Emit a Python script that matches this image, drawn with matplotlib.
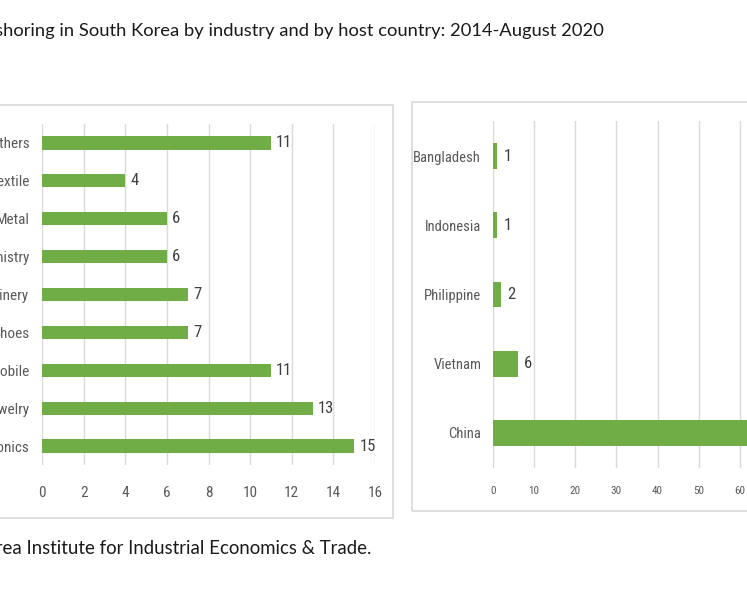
import matplotlib.pyplot as plt
from matplotlib.patches import Rectangle
from matplotlib import font_manager

# Data
industries = ['Electronics', 'Jewelry', 'Automobile', 'Shoes', 'Machinery',
              'Chemistry', 'Metal', 'Textile', 'Others']
industry_counts = [15, 13, 11, 7, 7, 6, 6, 4, 11]
industry_ticks = [0, 2, 4, 6, 8, 10, 12, 14, 16]

countries = ['China', 'Vietnam', 'Philippine', 'Indonesia', 'Bangladesh']
country_counts = [70, 6, 2, 1, 1]
country_ticks = [0, 10, 20, 30, 40, 50, 60, 70, 80]

title = 'Reshoring in South Korea by industry and by host country: 2014-August 2020'
source = 'Source: Korea Institute for Industrial Economics & Trade.'

GREEN = '#70AD47'
GRID = '#D9D9D9'
TXT = '#595959'

# look for a narrow face for the chart labels (Calibri-like, condensed)
fonts = font_manager.fontManager.ttflist
names = {f.name for f in fonts}
narrow = dict(family='DejaVu Sans')
scale = 0.85
if 'Liberation Sans Narrow' in names:
    narrow = dict(family='Liberation Sans Narrow')
    scale = 1.0
elif 'Roboto Condensed' in names:
    narrow = dict(family='Roboto Condensed')
    scale = 1.0
elif any(f.name == 'DejaVu Sans' and 'condensed' in str(f.stretch) for f in fonts):
    narrow = dict(family='DejaVu Sans', stretch='condensed')
    scale = 0.95

W, H = 747, 598
fig = plt.figure(figsize=(W / 100, H / 100), dpi=100)

def fx(px):
    return px / W

def fy(py):
    return 1 - py / H

# chart boxes
fig.patches.append(Rectangle((fx(-20), fy(518)), fx(413), (518 - 105) / H,
                             transform=fig.transFigure, fill=False,
                             edgecolor=GRID, linewidth=1.2))
fig.patches.append(Rectangle((fx(412), fy(511)), fx(400), (511 - 102) / H,
                             transform=fig.transFigure, fill=False,
                             edgecolor=GRID, linewidth=1.2))

fig.text(fx(604), fy(31), title, ha='right', va='center', fontsize=13.25,
         family='Lato', color='#1a1a1a')
fig.text(fx(371), fy(548), source, ha='right', va='center', fontsize=13.4,
         family='Lato', color='#1a1a1a')

# left panel: by industry
ax1 = fig.add_axes([fx(42), fy(465), fx(375 - 42), (465 - 124) / H])
y1 = range(len(industries))
ax1.barh(y1, industry_counts, height=0.35, color=GREEN, zorder=3)
ax1.set_xlim(0, 16)
ax1.set_ylim(-0.5, len(industries) - 0.5)
ax1.set_xticks(industry_ticks)
ax1.set_yticks(list(y1))
ax1.set_yticklabels(industries, fontsize=11 * scale, color=TXT, **narrow)
ax1.set_xticklabels([str(t) for t in industry_ticks], fontsize=11 * scale,
                    color=TXT, **narrow)
for yi, v in zip(y1, industry_counts):
    ax1.text(v + 0.25, yi, str(v), va='center', ha='left',
             fontsize=12 * scale, color='#404040', **narrow)
ax1.tick_params(axis='y', pad=9)
ax1.tick_params(axis='x', pad=15)

# right panel: by host country
ax2 = fig.add_axes([fx(493), fy(467.6), fx(329), (467.6 - 121.4) / H])
y2 = range(len(countries))
ax2.barh(y2, country_counts, height=0.375, color=GREEN, zorder=3)
ax2.set_xlim(0, 80)
ax2.set_ylim(-0.5, len(countries) - 0.5)
ax2.set_xticks(country_ticks)
ax2.set_yticks(list(y2))
ax2.set_yticklabels(countries, fontsize=10.5 * scale, color=TXT, **narrow)
ax2.set_xticklabels([str(t) for t in country_ticks], fontsize=8 * scale,
                    color=TXT, **narrow)
for yi, v in zip(y2, country_counts):
    ax2.text(v + 1.5, yi, str(v), va='center', ha='left',
             fontsize=12 * scale, color='#404040', **narrow)
ax2.tick_params(axis='y', pad=8.5)
ax2.tick_params(axis='x', pad=13)

for ax in (ax1, ax2):
    ax.grid(axis='x', color=GRID, linewidth=1, zorder=0)
    ax.set_axisbelow(True)
    for s in ax.spines.values():
        s.set_visible(False)
    ax.tick_params(length=0)
    ax.patch.set_alpha(0)

fig.savefig('out.png', dpi=100)
